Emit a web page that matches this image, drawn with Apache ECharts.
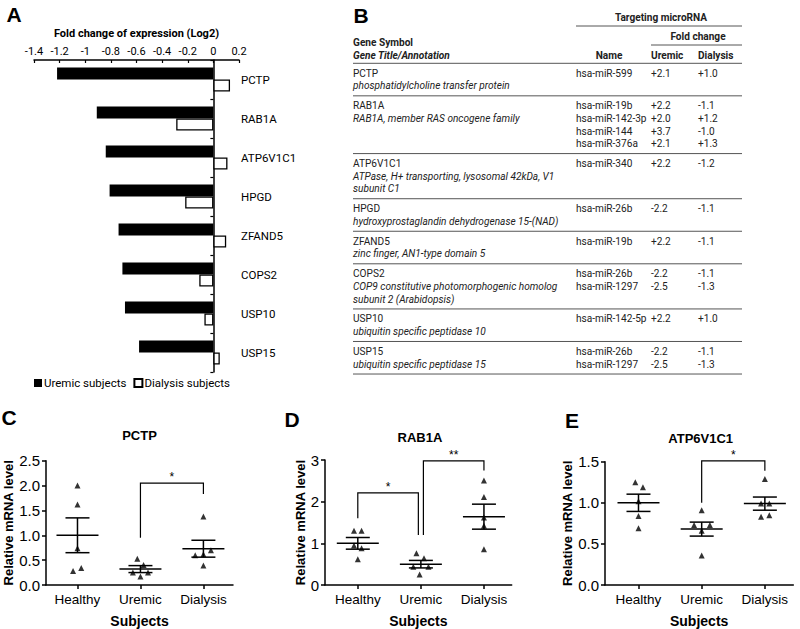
<!DOCTYPE html>
<html><head><meta charset="utf-8">
<script src="https://cdn.jsdelivr.net/npm/echarts@6/dist/echarts.min.js"></script>
<style>html,body{margin:0;padding:0;background:#fff}#c{width:800px;height:629px}</style>
</head><body><div id="c"></div>
<script>
// ---------- Panel A data ----------
const geneSymbols = ['PCTP','RAB1A','ATP6V1C1','HPGD','ZFAND5','COPS2','USP10','USP15'];
const uremicLog2 = [-1.22,-0.91,-0.84,-0.81,-0.74,-0.71,-0.69,-0.58];
const dialysisLog2 = [0.13,-0.29,0.11,-0.22,0.10,-0.11,-0.07,0.05];
const seriesNamesA = ['Uremic subjects','Dialysis subjects'];

// ---------- Panel B table ----------
const tableGeneSymbols = ['PCTP','RAB1A','ATP6V1C1','HPGD','ZFAND5','COPS2','USP10','USP15'];
const tableAnnotations = [
  ['phosphatidylcholine transfer protein'],
  ['RAB1A, member RAS oncogene family'],
  ['ATPase, H+ transporting, lysosomal 42kDa, V1','subunit C1'],
  ['hydroxyprostaglandin dehydrogenase 15-(NAD)'],
  ['zinc finger, AN1-type domain 5'],
  ['COP9 constitutive photomorphogenic homolog','subunit 2 (Arabidopsis)'],
  ['ubiquitin specific peptidase 10'],
  ['ubiquitin specific peptidase 15']
];
const tableMirnaNames = [
  ['hsa-miR-599'],
  ['hsa-miR-19b','hsa-miR-142-3p','hsa-miR-144','hsa-miR-376a'],
  ['hsa-miR-340'],
  ['hsa-miR-26b'],
  ['hsa-miR-19b'],
  ['hsa-miR-26b','hsa-miR-1297'],
  ['hsa-miR-142-5p'],
  ['hsa-miR-26b','hsa-miR-1297']
];
const tableUremicFC = [['+2.1'],['+2.2','+2.0','+3.7','+2.1'],['+2.2'],['-2.2'],['+2.2'],['-2.2','-2.5'],['+2.2'],['-2.2','-2.5']];
const tableDialysisFC = [['+1.0'],['-1.1','+1.2','-1.0','+1.3'],['-1.2'],['-1.1'],['-1.1'],['-1.1','-1.3'],['+1.0'],['-1.1','-1.3']];
const tableHeaders = {group:'Targeting microRNA', fold:'Fold change', sym:'Gene Symbol', title:'Gene Title/Annotation', name:'Name', uremic:'Uremic', dialysis:'Dialysis'};

// ---------- Panels C-E data ----------
const subjectGroups = ['Healthy','Uremic','Dialysis'];
const panelTitles = ['PCTP','RAB1A','ATP6V1C1'];
// [x position (group index with small side-by-side offset), relative mRNA level]
const pctpPoints = [[0,2.0],[0,1.62],[0,0.74],[-0.07,0.28],[0.06,0.34],
  [0.95,0.53],[1.05,0.40],[0.88,0.25],[1.0,0.17],[1.12,0.25],
  [2,1.38],[1.87,0.60],[2.12,0.70],[2,0.39],[2,0.62]];
const pctpMean = [1.00,0.32,0.73];
const pctpSem = [0.35,0.07,0.17];
const pctpBrackets = [[1,2,2.05,0.95,1.83]];
const pctpStars = ['*'];

const rab1aPoints = [[-0.06,1.30],[0.06,1.30],[-0.06,0.95],[0.06,0.88],[0,0.62],
  [0.93,0.76],[1.05,0.64],[0.88,0.44],[1.12,0.44],[0.98,0.25],
  [2,2.51],[2,2.11],[2,1.62],[2,1.42],[2,0.86]];
const rab1aMean = [1.00,0.50,1.64];
const rab1aSem = [0.14,0.09,0.30];
const rab1aBrackets = [[0,0.96,2.21,1.6,1.2],[1.04,2,2.98,1.2,2.75]];
const rab1aStars = ['*','**'];

const atpPoints = [[-0.05,1.25],[0.07,1.19],[0,1.02],[0,0.84],[0,0.69],
  [1,0.91],[0.88,0.73],[1.13,0.73],[1,0.66],[1,0.36],
  [2,1.29],[1.94,0.99],[2.07,0.99],[1.94,0.83],[2.07,0.85]];
const atpMean = [1.00,0.68,0.99];
const atpSem = [0.105,0.085,0.08];
const atpBrackets = [[1,2,1.51,1.0,1.39]];
const atpStars = ['*'];

// ---------- build ----------
const chart = echarts.init(document.getElementById('c'), null, {renderer:'svg'});
const ARIAL = 'Liberation Sans, Arial, sans-serif';
const CAL = 'Roboto, Carlito, Calibri, sans-serif';

function txt(x, y, text, opt) {
  opt = opt || {};
  return {type:'text', silent:true, style:{x:x, y:y, text:text,
    fill: opt.fill || '#222', fontSize: opt.size || 10.1, fontFamily: opt.family || CAL,
    fontWeight: opt.weight || 'normal', fontStyle: opt.style || 'normal',
    align: opt.align || 'left', verticalAlign:'middle',
    textAlign: opt.align || 'left', textVerticalAlign:'middle'}};
}
function hline(x1, x2, y, color, w) {
  return {type:'line', silent:true, shape:{x1:x1,y1:y,x2:x2,y2:y}, style:{stroke:color||'#555', lineWidth:w||1}};
}

const graphics = [];
// panel letters
graphics.push(txt(14,14,'A',{size:21,weight:'bold',family:ARIAL,fill:'#000',align:'center'}));
graphics.push(txt(361,15,'B',{size:21,weight:'bold',family:ARIAL,fill:'#000',align:'center'}));
graphics.push(txt(9,417,'C',{size:21,weight:'bold',family:ARIAL,fill:'#000',align:'center'}));
graphics.push(txt(292,419,'D',{size:21,weight:'bold',family:ARIAL,fill:'#000',align:'center'}));
graphics.push(txt(572,420,'E',{size:21,weight:'bold',family:ARIAL,fill:'#000',align:'center'}));
// panel titles C-E
graphics.push(txt(139.5,435,panelTitles[0],{size:13,weight:'bold',family:ARIAL,fill:'#000',align:'center'}));
graphics.push(txt(420,437,panelTitles[1],{size:13,weight:'bold',family:ARIAL,fill:'#000',align:'center'}));
graphics.push(txt(700.7,438,panelTitles[2],{size:13,weight:'bold',family:ARIAL,fill:'#000',align:'center'}));

// table
const TB = {left:353, nameX:576, uremicX:651, dialysisX:698, right:742, headY:63.3, pitch:12.6, pad:7.34, first:10};
graphics.push(txt(661,17.3,tableHeaders.group,{weight:'bold',align:'center'}));
graphics.push(hline(TB.nameX, TB.right, 26));
graphics.push(txt(698,36,tableHeaders.fold,{weight:'bold',align:'center'}));
graphics.push(hline(TB.uremicX, TB.right, 45));
graphics.push(txt(TB.left,42.7,tableHeaders.sym,{weight:'bold'}));
graphics.push(txt(TB.left,55,tableHeaders.title,{weight:'bold',style:'italic'}));
graphics.push(txt(TB.nameX + 33,55,tableHeaders.name,{weight:'bold',align:'center'}));
graphics.push(txt(TB.uremicX,55,tableHeaders.uremic,{weight:'bold'}));
graphics.push(txt(TB.dialysisX,55,tableHeaders.dialysis,{weight:'bold'}));
let lineY = TB.headY;
graphics.push(hline(TB.left, TB.right, lineY));
for (let i = 0; i < tableGeneSymbols.length; i++) {
  const leftLines = [tableGeneSymbols[i]].concat(tableAnnotations[i]);
  const n = Math.max(leftLines.length, tableMirnaNames[i].length);
  const y0 = lineY + TB.first;
  leftLines.forEach((t, k) => graphics.push(txt(TB.left, y0 + k*TB.pitch, t, {style: k === 0 ? 'normal' : 'italic'})));
  tableMirnaNames[i].forEach((t, k) => {
    graphics.push(txt(TB.nameX, y0 + k*TB.pitch, t));
    graphics.push(txt(TB.uremicX, y0 + k*TB.pitch, tableUremicFC[i][k]));
    graphics.push(txt(TB.dialysisX, y0 + k*TB.pitch, tableDialysisFC[i][k]));
  });
  lineY = lineY + TB.pad + TB.pitch * n;
  graphics.push(hline(TB.left, TB.right, lineY));
}

// custom renderers
function meanSemRender(params, api) {
  const x = api.value(0), m = api.value(1), s = api.value(2);
  const c = api.coord([x, m]), t = api.coord([x, m + s]), b = api.coord([x, m - s]);
  const st = {stroke:'#000', lineWidth:1.5};
  return {type:'group', children:[
    {type:'line', shape:{x1:c[0]-21, y1:c[1], x2:c[0]+21, y2:c[1]}, style:st},
    {type:'line', shape:{x1:t[0]-12, y1:t[1], x2:t[0]+12, y2:t[1]}, style:st},
    {type:'line', shape:{x1:b[0]-12, y1:b[1], x2:b[0]+12, y2:b[1]}, style:st},
    {type:'line', shape:{x1:t[0], y1:t[1], x2:b[0], y2:b[1]}, style:st}
  ]};
}
function bracketRenderer(stars) {
  return function(params, api) {
    const x1 = api.value(0), x2 = api.value(1), top = api.value(2), l = api.value(3), r = api.value(4);
    const p1 = api.coord([x1, l]), p2 = api.coord([x1, top]), p3 = api.coord([x2, top]), p4 = api.coord([x2, r]);
    return {type:'group', children:[
      {type:'polyline', shape:{points:[p1,p2,p3,p4]}, style:{stroke:'#000', lineWidth:1.2, fill:null}},
      {type:'text', style:{x:(p2[0]+p3[0])/2, y:p2[1]-6, text:stars[params.dataIndex], fill:'#000',
        fontSize:12, fontFamily:ARIAL, align:'center', verticalAlign:'middle', textAlign:'center', textVerticalAlign:'middle'}}
    ]};
  };
}
function zip3(a, b) { return a.map((m, i) => [i, m, b[i]]); }

// grids
const grids = [
  {left:34, top:60, width:205, height:312},        // A
  {left:46, top:460.7, width:187, height:125.3},   // C
  {left:325, top:460, width:186.7, height:126},    // D
  {left:605, top:461.7, width:188.3, height:125}   // E
];

const blackAxis = {show:true, onZero:false, lineStyle:{color:'#000', width:1.5}};
function subjAxis(gi, min, max) {
  return {gridIndex:gi, type:'value', min:min, max:max, splitLine:{show:false},
    axisLine:blackAxis,
    axisTick:{show:true, customValues:[0,1,2], length:4, lineStyle:{color:'#000', width:1.5}},
    axisLabel:{customValues:[0,1,2], formatter:(v) => subjectGroups[Math.round(v)], color:'#000', fontSize:13.5, fontFamily:ARIAL, margin:7},
    name:'Subjects', nameLocation:'middle', nameGap:29,
    nameTextStyle:{fontWeight:'bold', fontSize:14, fontFamily:ARIAL, color:'#000'}};
}
function levelAxis(gi, max, interval, decimals, gap) {
  return {gridIndex:gi, type:'value', min:0, max:max, interval:interval, splitLine:{show:false},
    axisLine:blackAxis,
    axisTick:{show:true, length:4, lineStyle:{color:'#000', width:1.5}},
    axisLabel:{formatter:(v) => v.toFixed(decimals), color:'#000', fontSize:15, fontFamily:ARIAL, margin:6},
    name:'Relative mRNA level', nameLocation:'middle', nameGap:gap,
    nameTextStyle:{fontWeight:'bold', fontSize:13, fontFamily:ARIAL, color:'#000'}};
}

const option = {
  animation:false,
  backgroundColor:'#fff',
  grid: grids,
  legend: {data:seriesNamesA, left:29, top:372, itemWidth:8, itemHeight:8, itemGap:7, icon:'rect',
    textStyle:{fontFamily:CAL, fontSize:11.5, color:'#000', padding:[0,0,0,-3]}},
  xAxis: [
    {gridIndex:0, type:'value', position:'top', min:-1.4, max:0.2, interval:0.2, splitLine:{show:false},
      axisLine:{show:true, lineStyle:{color:'#000', width:1.5}},
      axisTick:{show:true, inside:true, length:3, lineStyle:{color:'#000', width:1.2}},
      axisLabel:{color:'#000', fontSize:11, fontFamily:CAL, margin:3},
      name:'Fold change of expression (Log2)', nameLocation:'middle', nameGap:21,
      nameTextStyle:{fontWeight:'bold', fontSize:11, fontFamily:CAL, color:'#000'}},
    subjAxis(1, -0.5, 2.47),
    subjAxis(2, -0.52, 2.44),
    subjAxis(3, -0.53, 2.45)
  ],
  yAxis: [
    {gridIndex:0, type:'category', inverse:true, data:geneSymbols, position:'left',
      axisLine:{show:true, onZero:true, lineStyle:{color:'#000', width:1.5}},
      axisTick:{show:true, length:3, lineStyle:{color:'#000', width:1.2}},
      axisLabel:{show:false}},
    {gridIndex:0, type:'category', inverse:true, data:geneSymbols, position:'right',
      axisLine:{show:false, onZero:false}, axisTick:{show:false},
      axisLabel:{color:'#000', fontSize:11.5, fontFamily:CAL, margin:2}},
    levelAxis(1, 2.5, 0.5, 1, 29),
    levelAxis(2, 3, 1, 0, 15),
    levelAxis(3, 1.5, 0.5, 1, 29)
  ],
  series: [
    {type:'bar', name:seriesNamesA[0], xAxisIndex:0, yAxisIndex:0, data:uremicLog2, barWidth:12, barGap:'0%',
      itemStyle:{color:'#000'}},
    {type:'bar', name:seriesNamesA[1], xAxisIndex:0, yAxisIndex:0, data:dialysisLog2, barWidth:12, barGap:'0%',
      itemStyle:{color:'#fff', borderColor:'#000', borderWidth:1.3}},
    {type:'scatter', xAxisIndex:1, yAxisIndex:2, data:pctpPoints, symbol:'triangle', symbolSize:6, itemStyle:{color:'#000'}},
    {type:'custom', xAxisIndex:1, yAxisIndex:2, data:zip3(pctpMean, pctpSem), renderItem:meanSemRender},
    {type:'custom', xAxisIndex:1, yAxisIndex:2, data:pctpBrackets, renderItem:bracketRenderer(pctpStars)},
    {type:'scatter', xAxisIndex:2, yAxisIndex:3, data:rab1aPoints, symbol:'triangle', symbolSize:6, itemStyle:{color:'#000'}},
    {type:'custom', xAxisIndex:2, yAxisIndex:3, data:zip3(rab1aMean, rab1aSem), renderItem:meanSemRender},
    {type:'custom', xAxisIndex:2, yAxisIndex:3, data:rab1aBrackets, renderItem:bracketRenderer(rab1aStars)},
    {type:'scatter', xAxisIndex:3, yAxisIndex:4, data:atpPoints, symbol:'triangle', symbolSize:6, itemStyle:{color:'#000'}},
    {type:'custom', xAxisIndex:3, yAxisIndex:4, data:zip3(atpMean, atpSem), renderItem:meanSemRender},
    {type:'custom', xAxisIndex:3, yAxisIndex:4, data:atpBrackets, renderItem:bracketRenderer(atpStars)}
  ],
  graphic: graphics
};
chart.setOption(option);
</script></body></html>
